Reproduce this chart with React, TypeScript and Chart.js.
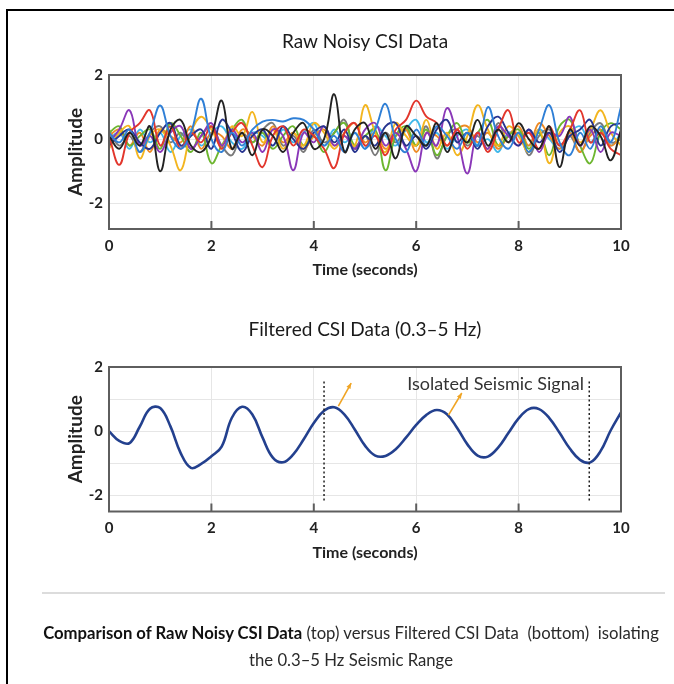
import React, { useEffect, useRef } from "react";
import { Chart, registerables } from "chart.js";

Chart.register(...registerables);

// ---------- DATA ----------
const sampleTimes = [
  0, 0.2, 0.4, 0.6, 0.8, 1, 1.2, 1.4, 1.6, 1.8, 2, 2.2, 2.4, 2.6, 2.8, 3, 3.2, 3.4, 3.6, 3.8,
  4, 4.2, 4.4, 4.6, 4.8, 5, 5.2, 5.4, 5.6, 5.8, 6, 6.2, 6.4, 6.6, 6.8, 7, 7.2, 7.4, 7.6, 7.8,
  8, 8.2, 8.4, 8.6, 8.8, 9, 9.2, 9.4, 9.6, 9.8, 10,
];

const rawBlack = [0.1, -0.3, 0.2, -0.2, 0.4, -1.0, 0.3, 0.6, -0.2, -0.4, 0.1, 1.2, -0.3, 0.2, -0.5, 0.3, 0.1, -0.4, 0.2, 0.5, -0.3, 0.0, 1.4, -0.4, 0.3, 0.5, -0.3, 0.2, -0.6, 0.4, 0.1, -0.2, 0.5, -0.4, 0.2, -0.1, 0.6, -0.2, 0.3, -0.1, 0.5, 0.0, -0.3, 0.4, -0.87, 0.3, -0.2, 0.4, 0.1, -0.66, 0.3];
const rawBlue = [0.2, -0.1, 0.3, -0.4, 0.2, 1.05, 0.1, -0.3, 0.2, 1.26, 0.0, -0.4, 0.2, -0.2, 0.3, 0.55, 0.6, 0.55, 0.65, 0.6, 0.3, -0.2, 0.1, -0.4, 0.2, -0.3, 0.3, 1.1, 0.0, -0.4, 0.3, -0.2, 0.4, 0.1, -0.3, 0.2, -0.2, 1.0, 0.1, -0.3, 0.2, -0.4, 0.3, 1.06, -0.1, -0.5, 0.2, -0.3, 0.4, -0.1, 1.0];
const rawRed = [0.1, -0.8, 0.2, 0.5, 0.9, -0.2, 0.4, -0.3, 0.2, -0.1, 0.4, -0.3, 0.2, 0.5, -0.2, -0.87, 0.1, 0.4, -0.2, 0.3, 0.1, -0.3, -0.9, 0.2, 0.5, -0.2, 0.1, -0.5, 0.3, 0.6, 1.2, 0.7, 0.5, -0.2, 0.3, -0.3, 0.2, -0.4, 0.3, 0.9, -0.1, 0.2, -0.3, 0.4, -0.2, 0.3, 0.9, -0.1, 0.2, -0.3, -0.5];
const rawPurple = [-0.1, 0.3, 0.9, -0.2, 0.1, -0.4, 0.2, 0.4, -0.3, 0.1, 0.5, -0.2, 0.3, -0.1, 0.2, -0.4, 0.3, 0.1, -0.97, 0.2, -0.1, 0.4, -0.2, 0.1, -0.3, 0.3, 0.5, -0.2, 0.2, -0.3, -1.0, 0.2, -0.2, 0.97, 0.1, -1.07, 0.2, -0.3, 0.4, 0.1, -0.2, 0.3, -0.4, 0.2, 0.1, 0.7, -0.2, 0.3, -0.4, 0.2, 0.1];
const rawYellow = [-0.3, 0.2, 0.4, -0.6, 0.1, 0.3, -0.2, -0.97, 0.2, 0.7, 0.3, -0.2, 0.4, 0.1, 0.85, -0.1, 0.3, -0.3, 0.2, -0.2, 0.5, 0.2, -0.3, 0.1, -0.2, 1.06, 0.2, -0.4, 0.5, 0.1, -0.2, 0.6, -0.3, 0.2, -0.5, 0.1, 1.06, 0.3, -0.2, 0.4, 0.1, -0.4, 0.3, -0.75, 0.2, 0.4, -0.1, 0.3, 0.9, 0.2, -0.2];
const rawGreen = [0.2, 0.4, -0.2, 0.1, 0.3, -0.3, 0.5, 0.1, -0.4, 0.2, -0.75, -0.2, 0.3, 0.6, -0.1, 0.2, -0.3, 0.1, 0.4, -0.2, 0.1, -0.4, 0.2, 0.5, -0.2, 0.1, 0.3, -0.97, 0.1, 0.4, -0.2, 0.3, -0.5, 0.1, 0.5, -0.1, 0.2, 0.6, -0.2, 0.1, 0.3, -0.3, 0.2, -0.5, 0.4, 0.6, -0.2, -0.75, 0.2, 0.5, 0.3];
const rawLightBlue = [0.0, 0.2, -0.3, 0.3, -0.1, 0.2, -0.4, 0.1, 0.3, -0.2, 0.2, 0.4, -0.1, -0.3, 0.2, 0.1, -0.2, 0.3, -0.1, 0.2, 0.5, -0.2, 0.3, -0.1, 0.2, -0.3, 0.4, 0.1, -0.2, 0.3, 0.6, -0.1, 0.2, -0.3, 0.1, 0.3, -0.2, 0.0, -0.4, 0.2, 0.1, -0.2, 0.3, 0.0, -0.3, 0.2, 0.4, -0.1, 0.3, -0.2, 0.2];
const rawNavy = [-0.2, 0.1, 0.3, -0.1, -0.3, 0.2, 0.5, -0.2, 0.1, 0.3, -0.3, 0.6, 0.2, -0.4, 0.1, 0.3, -0.2, 0.4, 0.0, -0.3, 0.2, 0.4, -0.1, 0.3, -0.4, 0.1, -0.2, 0.4, 0.5, -0.2, 0.1, -0.3, 0.3, 0.6, -0.1, 0.2, -0.3, 0.4, 0.7, 0.2, -0.2, 0.3, -0.1, 0.2, -0.4, 0.1, 0.3, 0.6, -0.2, 0.4, 0.5];
const rawGray = [0.3, -0.2, 0.1, -0.4, 0.2, 0.4, -0.1, 0.2, -0.3, 0.1, 0.4, -0.2, -0.5, 0.2, -0.1, 0.3, 0.5, -0.2, 0.1, -0.4, 0.3, -0.1, 0.2, 0.6, -0.3, 0.1, -0.5, 0.2, -0.1, 0.3, -0.2, 0.4, -0.6, 0.1, 0.3, -0.2, 0.1, -0.3, 0.5, -0.1, 0.2, -0.5, 0.1, 0.3, -0.2, 0.1, -0.4, 0.2, 0.5, -0.1, 0.0];
const rawOrange = [0.1, 0.3, -0.2, 0.2, -0.4, 0.3, 0.1, -0.1, 0.4, -0.3, 0.2, 0.1, -0.3, 0.3, 0.1, -0.2, 0.4, -0.1, 0.2, -0.3, 0.1, 0.3, -0.2, 0.2, 0.5, -0.1, 0.2, -0.3, 0.1, 0.3, -0.4, 0.2, 0.1, -0.2, 0.3, 0.4, -0.1, 0.2, -0.3, 0.1, 0.4, -0.2, 0.5, 0.1, -0.3, 0.2, -0.4, 0.1, 0.3, -0.2, 0.1];

const filteredValues = [0.0, -0.3, -0.37, 0.14, 0.7, 0.72, 0.15, -0.68, -1.14, -1.02, -0.78, -0.48, 0.42, 0.76, 0.52, -0.2, -0.82, -0.965, -0.72, -0.26, 0.255, 0.64, 0.746, 0.52, 0.054, -0.45, -0.76, -0.77, -0.56, -0.2, 0.197, 0.51, 0.66, 0.53, 0.1, -0.41, -0.76, -0.79, -0.51, -0.057, 0.4, 0.69, 0.69, 0.41, -0.05, -0.54, -0.89, -0.97, -0.62, 0.03, 0.59];

const xTicks = [0, 2, 4, 6, 8, 10];
const yTicks = [-2, -1, 0, 1, 2];
const markerTimes = [4.2, 9.38];
const markerSpan = [1.55, -2.2];
const arrowFrom = [[4.48, 0.78], [6.63, 0.5]];
const arrowTo = [[4.73, 1.5], [6.89, 1.19]];
const annotationLabel = "Isolated Seismic Signal";
const annotationAt = [7.55, 1.45];

// ---------- STYLES ----------
const FONT = "Lato, 'Open Sans', sans-serif";
const rawSeries = [
  { values: rawBlack, color: "#222222" },
  { values: rawBlue, color: "#2f7fd6" },
  { values: rawRed, color: "#e2362c" },
  { values: rawNavy, color: "#27348f" },
  { values: rawPurple, color: "#8a37b8" },
  { values: rawYellow, color: "#f3b51f" },
  { values: rawGreen, color: "#6db62f" },
  { values: rawOrange, color: "#ee8a24" },
  { values: rawGray, color: "#7a7a7a" },
  { values: rawLightBlue, color: "#40b8ea" },
];

const framePlugin = {
  id: "frame",
  afterDatasetsDraw(chart: any) {
    const { ctx, chartArea: a, scales } = chart;
    ctx.save();
    ctx.strokeStyle = "#5e5e5e";
    ctx.lineWidth = 2;
    ctx.strokeRect(a.left, a.top, a.right - a.left, a.bottom - a.top);
    ctx.beginPath();
    for (const t of xTicks) {
      if (t === xTicks[0] || t === xTicks[xTicks.length - 1]) continue;
      const x = scales.x.getPixelForValue(t);
      ctx.moveTo(x, a.bottom);
      ctx.lineTo(x, a.bottom - 8);
    }
    ctx.stroke();
    ctx.restore();
  },
};

const annotationPlugin = {
  id: "annot",
  afterDatasetsDraw(chart: any, _args: any, opts: any) {
    if (!opts || !opts.enabled) return;
    const { ctx, scales } = chart;
    const xs = scales.x, ys = scales.y;
    ctx.save();
    ctx.strokeStyle = "#222";
    ctx.lineWidth = 1.5;
    ctx.setLineDash([2, 2.5]);
    for (const t of markerTimes) {
      const x = xs.getPixelForValue(t);
      ctx.beginPath();
      ctx.moveTo(x, ys.getPixelForValue(markerSpan[0]));
      ctx.lineTo(x, ys.getPixelForValue(markerSpan[1]));
      ctx.stroke();
    }
    ctx.setLineDash([]);
    ctx.strokeStyle = "#f0a424";
    ctx.fillStyle = "#f0a424";
    ctx.lineWidth = 1.6;
    arrowFrom.forEach((f, i) => {
      const x1 = xs.getPixelForValue(f[0]), y1 = ys.getPixelForValue(f[1]);
      const x2 = xs.getPixelForValue(arrowTo[i][0]), y2 = ys.getPixelForValue(arrowTo[i][1]);
      ctx.beginPath();
      ctx.moveTo(x1, y1);
      ctx.lineTo(x2, y2);
      ctx.stroke();
      const ang = Math.atan2(y2 - y1, x2 - x1);
      const hl = 6;
      ctx.beginPath();
      ctx.moveTo(x2, y2);
      ctx.lineTo(x2 - hl * Math.cos(ang - 0.4), y2 - hl * Math.sin(ang - 0.4));
      ctx.lineTo(x2 - hl * Math.cos(ang + 0.4), y2 - hl * Math.sin(ang + 0.4));
      ctx.closePath();
      ctx.fill();
    });
    ctx.fillStyle = "#333";
    ctx.font = `18px ${FONT}`;
    ctx.textAlign = "center";
    ctx.textBaseline = "middle";
    ctx.fillText(annotationLabel, xs.getPixelForValue(annotationAt[0]), ys.getPixelForValue(annotationAt[1]));
    ctx.restore();
  },
};

type Geo = {
  title: string;
  height: number;
  titleCenter: number;
  chartTop: number;
  chartBottom: number;
  axisTitleY: number;
  yMin: number;
  yMax: number;
};

function buildConfig(geo: Geo, datasets: any[], annot: boolean): any {
  const titleLH = 19 * 1.2;
  return {
    type: "line",
    data: { datasets },
    plugins: [framePlugin, annotationPlugin],
    options: {
      animation: false,
      responsive: false,
      maintainAspectRatio: false,
      layout: { padding: { left: 0, right: 53, top: 0, bottom: 0 } },
      elements: { point: { radius: 0 } },
      plugins: {
        legend: { display: false },
        tooltip: { enabled: false },
        annot: { enabled: annot },
        title: {
          display: true,
          text: geo.title,
          fullSize: false,
          color: "#1a1a1a",
          font: { family: FONT, size: 19, weight: "normal" },
          padding: {
            top: geo.titleCenter - titleLH / 2,
            bottom: geo.chartTop - (geo.titleCenter + titleLH / 2),
          },
        },
      },
      scales: {
        x: {
          type: "linear",
          min: 0,
          max: 10,
          afterFit: (s: any) => {
            s.height = geo.height - geo.chartBottom;
          },
          afterBuildTicks: (s: any) => {
            s.ticks = xTicks.map((v) => ({ value: v }));
          },
          border: { display: false },
          grid: { color: "#e6e6e6", lineWidth: 1, drawTicks: false },
          ticks: {
            padding: 8,
            color: "#222",
            font: { family: FONT, size: 15, weight: "bold" },
            callback: (v: any) => String(v),
          },
          title: {
            display: true,
            text: "Time (seconds)",
            color: "#222",
            font: { family: FONT, size: 16, weight: "bold" },
            padding: { top: 0, bottom: geo.height - geo.axisTitleY - 9.6 },
          },
        },
        y: {
          type: "linear",
          min: geo.yMin,
          max: geo.yMax,
          afterFit: (s: any) => {
            s.width = 109;
          },
          afterBuildTicks: (s: any) => {
            s.ticks = yTicks.map((v) => ({ value: v }));
          },
          border: { display: false },
          grid: { color: "#e6e6e6", lineWidth: 1, drawTicks: false },
          ticks: {
            padding: 6,
            color: "#222",
            font: { family: FONT, size: 15, weight: "bold" },
            callback: (v: any) => (Math.abs(v % 2) < 1e-9 ? String(v) : ""),
          },
          title: {
            display: true,
            text: "Amplitude",
            color: "#222",
            font: { family: FONT, size: 19, weight: "bold" },
            padding: { top: 76 - 11.4, bottom: 0 },
          },
        },
      },
    },
  };
}

function ChartBox({ top, geo, datasets, annot }: { top: number; geo: Geo; datasets: any[]; annot: boolean }) {
  const ref = useRef<HTMLCanvasElement>(null);
  useEffect(() => {
    const chart = new Chart(ref.current as HTMLCanvasElement, buildConfig(geo, datasets, annot));
    return () => chart.destroy();
  }, []);
  return (
    <div style={{ position: "absolute", left: 0, top, width: 674, height: geo.height }}>
      <canvas ref={ref} width={674} height={geo.height} style={{ width: 674, height: geo.height, display: "block" }} />
    </div>
  );
}

const rawDatasets = rawSeries.map((s) => ({
  data: s.values.map((v, i) => ({ x: sampleTimes[i], y: v })),
  borderColor: s.color,
  borderWidth: 1.9,
  tension: 0.4,
  fill: false,
}));

const filteredDatasets = [
  {
    data: filteredValues.map((v, i) => ({ x: sampleTimes[i], y: v })),
    borderColor: "#23408e",
    borderWidth: 2.6,
    tension: 0.4,
    fill: false,
  },
];

const topGeo: Geo = {
  title: "Raw Noisy CSI Data",
  height: 295,
  titleCenter: 42,
  chartTop: 75,
  chartBottom: 229,
  axisTitleY: 270,
  yMin: -2.8,
  yMax: 2,
};

const bottomGeo: Geo = {
  title: "Filtered CSI Data (0.3–5 Hz)",
  height: 290,
  titleCenter: 35,
  chartTop: 72,
  chartBottom: 216.5,
  axisTitleY: 258,
  yMin: -2.5,
  yMax: 2,
};

export default function App() {
  return (
    <div style={{ position: "absolute", left: 0, top: 0, width: 674, height: 684, background: "#fff", overflow: "hidden" }}>
      <ChartBox top={0} geo={topGeo} datasets={rawDatasets} annot={false} />
      <ChartBox top={295} geo={bottomGeo} datasets={filteredDatasets} annot={true} />
      <div style={{ position: "absolute", left: 6, top: 9, width: 700, height: 700, borderTop: "2px solid #000", borderLeft: "2px solid #000" }} />
      <div style={{ position: "absolute", left: 42, top: 592, width: 623, height: 2, background: "#dcdcdc" }} />
      <div
        style={{
          position: "absolute",
          left: 30,
          top: 620,
          width: 642,
          textAlign: "center",
          fontFamily: FONT,
          fontSize: 16.7,
          lineHeight: "27px",
          color: "#2a2a2a",
        }}
      >
        <b style={{ color: "#111" }}>Comparison of Raw Noisy CSI Data</b> (top) versus Filtered CSI Data&nbsp; (bottom)&nbsp; isolating
        <br />
        the 0.3–5 Hz Seismic Range
      </div>
    </div>
  );
}
